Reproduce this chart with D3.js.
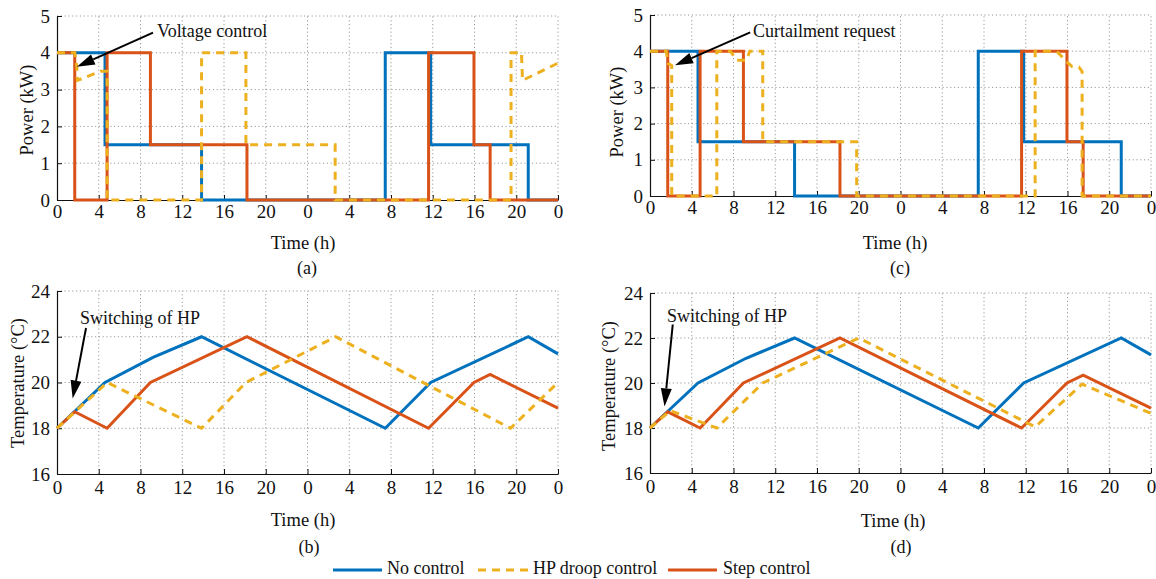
<!DOCTYPE html>
<html>
<head>
<meta charset="utf-8">
<script src="https://cdn.jsdelivr.net/npm/d3@7"></script>
<style>
  html, body { margin: 0; padding: 0; background: #fff; }
  svg { display: block; font-family: "Liberation Serif", "Times New Roman", serif; }
</style>
</head>
<body>
<svg id="chart" width="1156" height="579"></svg>
<script>
// ---------------- DATA ----------------
const timeTicks = [0, 4, 8, 12, 16, 20, 24, 28, 32, 36, 40, 44, 48];
const timeTickLabels = ["0", "4", "8", "12", "16", "20", "0", "4", "8", "12", "16", "20", "0"];
const powerTicks = [0, 1, 2, 3, 4, 5];
const tempTicks = [16, 18, 20, 22, 24];

const seriesNames = ["No control", "HP droop control", "Step control"];
const seriesColors = ["#0072BD", "#EDB120", "#D95319"];

// Power (kW) vs time (h), [t, P]
const powerNoControl = [[0,4],[4.6,4],[4.6,1.5],[13.85,1.5],[13.85,0],[31.45,0],[31.45,4],[35.8,4],[35.8,1.5],[45.15,1.5],[45.15,0],[48,0]];
const powerStep = [[0,4],[1.7,4],[1.7,0],[4.8,0],[4.8,4],[8.95,4],[8.95,1.5],[18.2,1.5],[18.2,0],[35.6,0],[35.6,4],[39.95,4],[39.95,1.5],[41.5,1.5],[41.5,0],[48,0]];
const powerDroopA = [[0,4],[1.7,4],[1.9,3.62],[1.95,3.25],[4.2,3.5],[4.8,3.5],[4.8,0],[13.85,0],[13.85,4],[18.1,4],[18.1,1.5],[26.65,1.5],[26.65,0],[43.5,0],[43.5,4],[44.5,4],[44.6,3.25],[48,3.72]];
const powerDroopC = [[0,4],[1.55,4],[1.75,3.66],[2.08,3.6],[2.08,0],[6.4,0],[6.4,4],[7.7,4],[8.3,3.75],[9.25,3.75],[9.55,4],[10.8,4],[10.8,1.5],[19.8,1.5],[19.8,0],[36.9,0],[36.9,4],[38.95,4],[39.9,3.72],[40.4,3.58],[41.1,3.56],[41.4,3.44],[41.4,0],[48,0]];

// Temperature (°C) vs time (h), [t, T]
const tempNoControl = [[0,18],[4.6,20],[9.2,21.1],[13.85,22],[31.45,18],[35.8,20],[45.15,22],[48,21.25]];
const tempStep = [[0,18],[1.7,18.72],[4.8,18],[8.95,20],[18.2,22],[35.6,18],[39.95,20],[41.5,20.35],[48,18.88]];
const tempDroopB = [[0,18],[4.8,20],[13.85,18],[18.1,20],[26.7,22],[43.45,18],[48,20]];
const tempDroopD = [[0,18],[1.95,18.77],[6.4,18],[10.8,20],[20.0,22],[36.9,18.05],[41.4,19.95],[48,18.65]];

// ---------------- LAYOUT ----------------
const svg = d3.select("#chart");

const panels = [
  { x0: 57, x1: 558, yTop: 16, yBot: 200, yDomain: [0, 5], yTicks: powerTicks, yLabel: "Power (kW)",
    yLabelX: 27, yLabelY: 110, xLabelX: 303, xLabelY: 243, caption: "(a)", capX: 307, capY: 268, xPad: 5,
    series: [powerNoControl, powerDroopA, powerStep],
    annot: { text: "Voltage control", tip: [1.9, 3.62], tail: [9.2, 4.55], tx: 157, ty: 37 } },
  { x0: 57, x1: 558, yTop: 291, yBot: 474, yDomain: [16, 24], yTicks: tempTicks, yLabel: "Temperature (°C)",
    yLabelX: 18, yLabelY: 383, xLabelX: 303, xLabelY: 520, caption: "(b)", capX: 309, capY: 547, xPad: 7,
    series: [tempNoControl, tempDroopB, tempStep],
    annot: { text: "Switching of HP", tip: [1.5, 19.3], tail: [2.78, 22.38], tx: 80, ty: 324 } },
  { x0: 650, x1: 1151, yTop: 15, yBot: 196, yDomain: [0, 5], yTicks: powerTicks, yLabel: "Power (kW)",
    yLabelX: 617, yLabelY: 112, xLabelX: 895, xLabelY: 243, caption: "(c)", capX: 900, capY: 268, xPad: 5,
    series: [powerNoControl, powerDroopC, powerStep],
    annot: { text: "Curtailment request", tip: [2.4, 3.61], tail: [9.6, 4.52], tx: 753, ty: 37 } },
  { x0: 650, x1: 1151, yTop: 293, yBot: 473, yDomain: [16, 24], yTicks: tempTicks, yLabel: "Temperature (°C)",
    yLabelX: 609, yLabelY: 386, xLabelX: 893, xLabelY: 521, caption: "(d)", capX: 901, capY: 547, xPad: 7,
    series: [tempNoControl, tempDroopD, tempStep],
    annot: { text: "Switching of HP", tip: [1.39, 18.96], tail: [2.18, 22.6], tx: 667, ty: 322 } }
];

const drawOrder = [0, 2, 1]; // blue, red, then yellow dashed on top

panels.forEach(p => {
  const x = d3.scaleLinear().domain([0, 48]).range([p.x0, p.x1]);
  const y = d3.scaleLinear().domain(p.yDomain).range([p.yBot, p.yTop]);
  const g = svg.append("g");

  // grid
  const grid = g.append("g").attr("stroke", "#9a9a9a").attr("stroke-width", 1).attr("stroke-dasharray", "1.2,2.6");
  timeTicks.forEach(t => {
    if (t === 0) return;
    grid.append("line").attr("x1", x(t)).attr("x2", x(t)).attr("y1", p.yBot).attr("y2", p.yTop);
  });
  p.yTicks.forEach(v => {
    if (v === p.yDomain[0]) return;
    grid.append("line").attr("x1", p.x0).attr("x2", p.x1).attr("y1", y(v)).attr("y2", y(v));
  });

  // axes
  const xAxis = d3.axisBottom(x).tickValues(timeTicks)
    .tickFormat((d, i) => timeTickLabels[i]).tickSizeInner(-5).tickSizeOuter(0).tickPadding(p.xPad);
  const yAxis = d3.axisLeft(y).tickValues(p.yTicks).tickFormat(d3.format("d"))
    .tickSizeInner(-5).tickSizeOuter(0).tickPadding(7);
  const gx = g.append("g").attr("transform", `translate(0,${p.yBot})`).call(xAxis);
  const gy = g.append("g").attr("transform", `translate(${p.x0},0)`).call(yAxis);
  [gx, gy].forEach(a => {
    a.attr("font-family", "Liberation Serif, Times New Roman, serif");
    a.selectAll("text").attr("font-size", 19).attr("fill", "#111");
    a.selectAll("line").attr("stroke", "#111");
    a.select(".domain").attr("stroke", "#111").attr("stroke-width", 1.2);
  });

  // lines
  const line = d3.line().x(d => x(d[0])).y(d => y(d[1]));
  drawOrder.forEach(si => {
    g.append("path").datum(p.series[si])
      .attr("fill", "none")
      .attr("stroke", seriesColors[si])
      .attr("stroke-width", 3)
      .attr("stroke-linejoin", "miter")
      .attr("stroke-dasharray", si === 1 ? "8,6" : null)
      .attr("d", line);
  });

  // axis labels
  g.append("text").attr("x", p.xLabelX).attr("y", p.xLabelY).attr("text-anchor", "middle")
    .attr("dominant-baseline", "central").attr("font-size", 18.5).attr("fill", "#111").text("Time (h)");
  g.append("text").attr("transform", `translate(${p.yLabelX},${p.yLabelY}) rotate(-90)`)
    .attr("text-anchor", "middle").attr("dominant-baseline", "central")
    .attr("font-size", 18.5).attr("fill", "#111").text(p.yLabel);
  g.append("text").attr("x", p.capX).attr("y", p.capY).attr("text-anchor", "middle")
    .attr("dominant-baseline", "central").attr("font-size", 18).attr("fill", "#111").text(p.caption);

  // annotation
  const a = p.annot;
  const tx = x(a.tip[0]), ty = y(a.tip[1]);
  const sx = x(a.tail[0]), sy = y(a.tail[1]);
  const ang = Math.atan2(ty - sy, tx - sx);
  const headL = 18, headW = 5.5;
  const bx = tx - headL * Math.cos(ang), by = ty - headL * Math.sin(ang);
  g.append("line").attr("x1", sx).attr("y1", sy).attr("x2", bx).attr("y2", by)
    .attr("stroke", "#000").attr("stroke-width", 2);
  const px = -Math.sin(ang), py = Math.cos(ang);
  g.append("path")
    .attr("d", `M${tx},${ty}L${bx + px * headW},${by + py * headW}L${bx - px * headW},${by - py * headW}Z`)
    .attr("fill", "#000");
  g.append("text").attr("x", a.tx).attr("y", a.ty).attr("font-size", 18).attr("fill", "#111").text(a.text);
});

// ---------------- LEGEND ----------------
const legendItems = [
  { x1: 333, x2: 382, tx: 387 },
  { x1: 478, x2: 528, tx: 533 },
  { x1: 668, x2: 717, tx: 723 }
];
const lg = svg.append("g");
seriesNames.forEach((name, i) => {
  const it = legendItems[i];
  lg.append("line").attr("x1", it.x1).attr("x2", it.x2).attr("y1", 570).attr("y2", 570)
    .attr("stroke", seriesColors[i]).attr("stroke-width", 3)
    .attr("stroke-dasharray", i === 1 ? "8,6" : null);
  lg.append("text").attr("x", it.tx).attr("y", 574).attr("font-size", 18).attr("fill", "#111").text(name);
});
</script>
</body>
</html>
